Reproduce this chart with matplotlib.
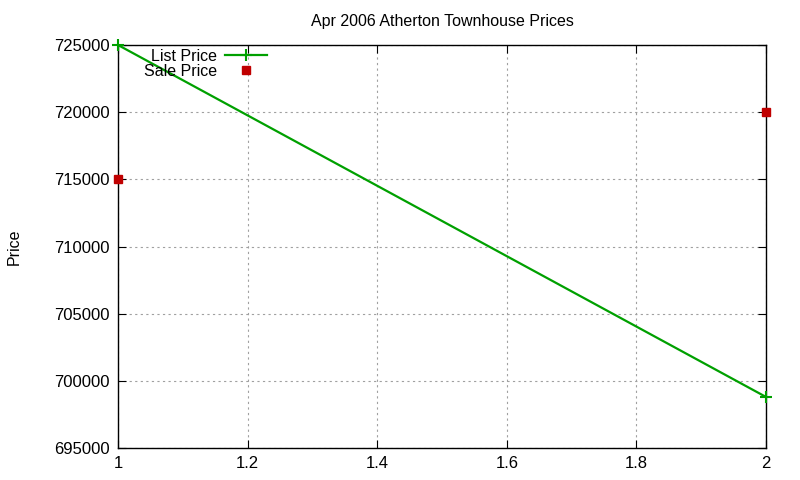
import matplotlib
matplotlib.use("Agg")
import matplotlib.pyplot as plt

x_list = [1, 2]
list_price = [725000, 698800]
x_sale = [1, 2]
sale_price = [715000, 720000]
x_ticks = [1, 1.2, 1.4, 1.6, 1.8, 2]
x_tick_labels = ["1", "1.2", "1.4", "1.6", "1.8", "2"]
y_ticks = [695000, 700000, 705000, 710000, 715000, 720000, 725000]

plt.rcParams['font.family'] = ['Liberation Sans', 'DejaVu Sans']
fig = plt.figure(figsize=(8, 4.8), dpi=100)
ax = fig.add_axes([118/800, 32/480, (766-118)/800, (448-45)/480])

ax.plot(x_list, list_price, color='#00a000', lw=1.6, marker='+', ms=8, mew=1.5, label='List Price',
        clip_on=False, zorder=4)
ax.plot(x_sale, sale_price, ls='none', marker='s', color='#c00000', ms=6, label='Sale Price',
        clip_on=False, zorder=5)

ax.set_xlim(1, 2)
ax.set_ylim(695000, 725000)
ax.set_xticks(x_ticks)
ax.set_xticklabels(x_tick_labels)
ax.set_yticks(y_ticks)
ax.set_yticklabels([str(v) for v in y_ticks])
ax.tick_params(direction='in', top=True, right=True, labelsize=12, length=6, pad=6)
ax.grid(True, color='#a0a0a0', ls=(0, (2, 3)), lw=0.8)
for s in ax.spines.values():
    s.set_linewidth(1.0)
ax.set_ylabel('Price', fontsize=11.5, labelpad=23)
ax.set_title('Apr 2006 Atherton Townhouse Prices', fontsize=11.5, pad=14)
leg = ax.legend(loc='upper left', bbox_to_anchor=(0.0305, 1.006), frameon=False, markerfirst=False,
                fontsize=11.5, handlelength=2.6, handletextpad=0.5, labelspacing=0.0, borderaxespad=0)
fig.savefig('out.png', dpi=100)
